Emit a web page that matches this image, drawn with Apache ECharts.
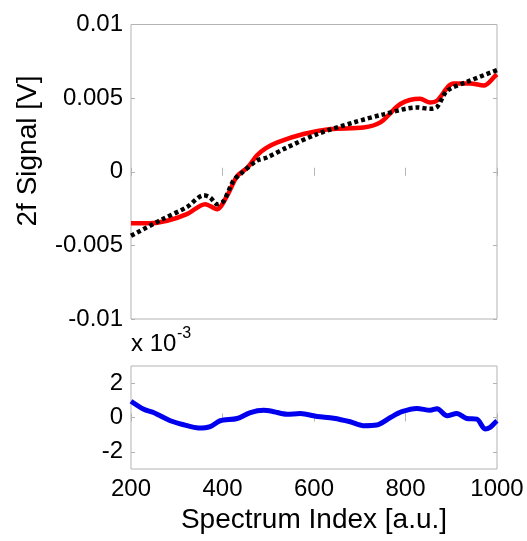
<!DOCTYPE html>
<html><head><meta charset="utf-8">
<script src="https://cdn.jsdelivr.net/npm/echarts@6/dist/echarts.min.js"></script>
<style>html,body{margin:0;padding:0;background:#fff}#c{width:527px;height:541px}</style>
</head><body><div id="c"></div>
<script>
var redX = [200, 240, 279, 322, 362, 388, 410, 432, 455, 475, 495, 520, 577, 636, 708, 745, 789, 832, 854, 869, 905, 942, 971, 996, 1000];
var redY = [-0.0035, -0.0035, -0.00333, -0.00288, -0.0022, -0.00254, -0.00163, -0.0003, 0.0003, 0.0011, 0.0016, 0.0020, 0.00256, 0.0029, 0.003, 0.00335, 0.0046, 0.00495, 0.0047, 0.00483, 0.006, 0.006, 0.00585, 0.0065, 0.0066];
var blackX = [200, 264, 322, 359, 373, 388, 402, 424, 439, 475, 497, 541, 607, 687, 752, 825, 854, 869, 891, 934, 1000];
var blackY = [-0.00435, -0.0033, -0.0024, -0.0016, -0.00175, -0.0022, -0.002, -0.0006, -0.00016, 0.00075, 0.00097, 0.00165, 0.00256, 0.00335, 0.0039, 0.00437, 0.00427, 0.0044, 0.0055, 0.0061, 0.0069];
var blueX = [200, 228, 249, 286, 315, 348, 373, 395, 432, 461, 490, 512, 541, 570, 607, 643, 679, 708, 737, 767, 792, 825, 854, 869, 891, 912, 934, 956, 974, 985, 996, 1000];
var blueY = [0.95, 0.48, 0.29, -0.19, -0.42, -0.61, -0.53, -0.19, -0.06, 0.29, 0.42, 0.34, 0.19, 0.23, 0.06, -0.04, -0.25, -0.48, -0.44, 0, 0.34, 0.53, 0.42, 0.51, 0.1, 0.23, -0.06, -0.1, -0.67, -0.57, -0.29, -0.2];
var xTicks = [200, 400, 600, 800, 1000];
var bottomYTicks = [-2, 0, 2];

function pairs(xs, ys) { return xs.map(function (x, i) { return [x, ys[i]]; }); }

var FONT = 'Liberation Sans';
var GRAY = '#b3b3b3';
var chart = echarts.init(document.getElementById('c'));

function xAx(grid, pos, labels) {
  return {
    type: 'value', gridIndex: grid, position: pos, min: 200, max: 1000, interval: 200,
    axisLine: { show: false },
    axisTick: { show: true, inside: true, length: 4, lineStyle: { color: GRAY } },
    splitLine: { show: false },
    axisLabel: { show: labels, color: '#000', fontFamily: FONT, fontSize: 24, margin: 8, formatter: function (v) { return String(v); } }
  };
}
function yAx(grid, pos, labels, extra) {
  var o = {
    type: 'value', gridIndex: grid, position: pos,
    axisLine: { show: false },
    axisTick: { show: true, inside: true, length: 4, lineStyle: { color: GRAY } },
    splitLine: { show: false },
    axisLabel: { show: labels, color: '#000', fontFamily: FONT, fontSize: 24, margin: 8 }
  };
  for (var k in extra) o[k] = extra[k];
  return o;
}

chart.setOption({
  animation: false,
  backgroundColor: '#fff',
  grid: [
    { left: 131, top: 24.5, width: 366, height: 294.5, show: true, borderColor: GRAY, borderWidth: 1, backgroundColor: '#fff' },
    { left: 131, top: 366, width: 366, height: 103, show: true, borderColor: GRAY, borderWidth: 1, backgroundColor: '#fff' }
  ],
  xAxis: [
    xAx(0, 'bottom', false),
    xAx(0, 'top', false),
    (function () { var a = xAx(1, 'bottom', true); a.name = 'Spectrum Index [a.u.]'; a.nameLocation = 'middle'; a.nameGap = 37; a.nameTextStyle = { fontFamily: FONT, fontSize: 28, color: '#000' }; a.axisLabel.customValues = xTicks; a.axisTick.customValues = xTicks; return a; })(),
    xAx(1, 'top', false)
  ],
  yAxis: [
    yAx(0, 'left', true, { min: -0.01, max: 0.01, interval: 0.005 }),
    yAx(0, 'right', false, { min: -0.01, max: 0.01, interval: 0.005 }),
    (function () { var a = yAx(1, 'left', true, { min: -3, max: 3 }); a.axisLabel.customValues = bottomYTicks; a.axisTick.customValues = bottomYTicks; return a; })(),
    (function () { var a = yAx(1, 'right', false, { min: -3, max: 3 }); a.axisTick.customValues = bottomYTicks; return a; })()
  ],
  series: [
    { type: 'line', xAxisIndex: 0, yAxisIndex: 0, data: pairs(redX, redY), smooth: 0.3, symbol: 'none',
      lineStyle: { color: '#ff0000', width: 4.5 } },
    { type: 'line', xAxisIndex: 0, yAxisIndex: 0, data: pairs(blackX, blackY), smooth: 0.3, symbol: 'none',
      lineStyle: { color: '#000', width: 4.5, type: [4, 3] } },
    { type: 'line', xAxisIndex: 2, yAxisIndex: 2, data: pairs(blueX, blueY), smooth: 0.3, symbol: 'none',
      lineStyle: { color: '#0000ee', width: 5 } }
  ],
  graphic: [
    { type: 'text', x: 28, y: 151, rotation: Math.PI / 2, style: { text: '2f Signal [V]', fontFamily: FONT, fontSize: 28, fill: '#000', textAlign: 'center', textVerticalAlign: 'middle' } },
    { type: 'text', x: 131, y: 332, style: { text: 'x 10', fontFamily: FONT, fontSize: 24, fill: '#000' } },
    { type: 'text', x: 177, y: 326, style: { text: '-3', fontFamily: FONT, fontSize: 16, fill: '#000' } }
  ]
});
</script>
</body></html>
